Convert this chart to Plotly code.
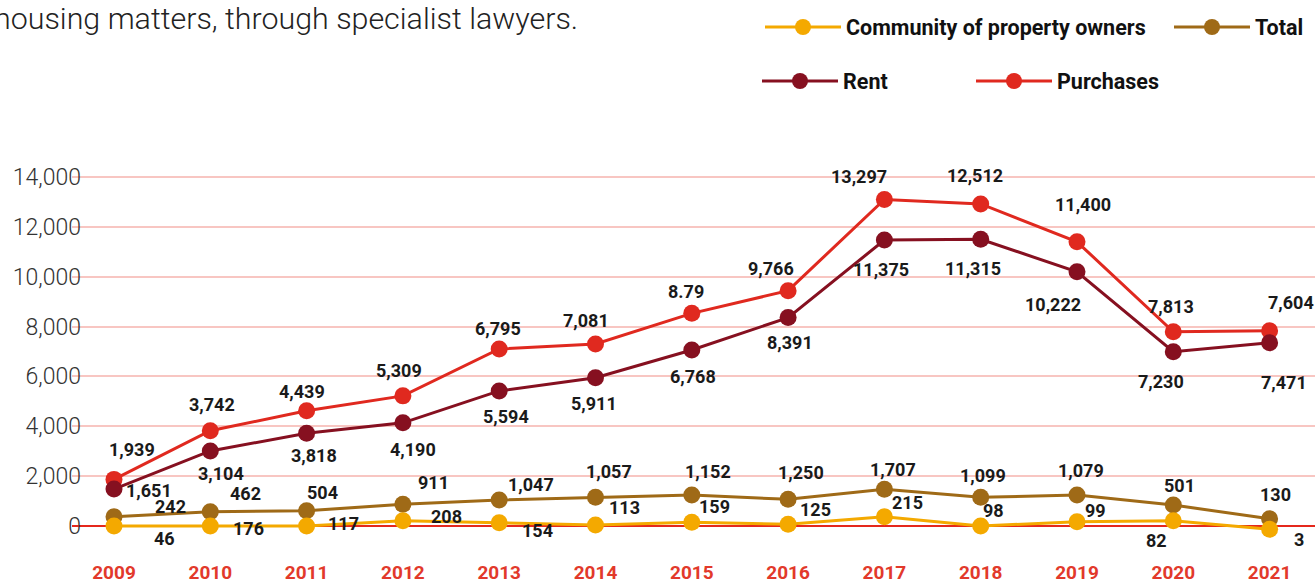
import plotly.graph_objects as go

# ---------------- data ----------------
years = list(range(2009, 2022))
year_labels = [str(y) for y in years]

purchases = [1870, 3820, 4620, 5220, 7100, 7300, 8530, 9440, 13100, 12920, 11400, 7790, 7830]
rent = [1480, 3010, 3720, 4140, 5420, 5950, 7060, 8360, 11470, 11500, 10200, 6990, 7350]
total = [370, 570, 610, 870, 1040, 1150, 1240, 1070, 1470, 1150, 1240, 840, 290]
community = [0, 0, 0, 210, 130, 40, 150, 70, 370, 0, 170, 210, -130]

purchases_labels = ["1,939", "3,742", "4,439", "5,309", "6,795", "7,081", "8.79",
                    "9,766", "13,297", "12,512", "11,400", "7,813", "7,604"]
rent_labels = ["1,651", "3,104", "3,818", "4,190", "5,594", "5,911", "6,768",
               "8,391", "11,375", "11,315", "10,222", "7,230", "7,471"]
total_labels = ["242", "462", "504", "911", "1,047", "1,057", "1,152",
                "1,250", "1,707", "1,099", "1,079", "501", "130"]
community_labels = ["46", "176", "117", "208", "154", "113", "159",
                    "125", "215", "98", "99", "82", "3"]

y_ticks = [0, 2000, 4000, 6000, 8000, 10000, 12000, 14000]
y_tick_labels = ["0", "2,000", "4,000", "6,000", "8,000", "10,000", "12,000", "14,000"]

subtitle = "housing matters, through specialist lawyers."

# ---------------- styles ----------------
C_PURCH = "#e0291f"
C_RENT = "#861020"
C_TOTAL = "#9f6a17"
C_COMM = "#f4a900"
C_YEAR = "#e2392b"
C_LABEL = "#1a1a1a"

# label offsets in px (dx right, dy down) relative to each point
purch_off = [(18, -30), (2, -26), (-5, -19), (-4, -25), (-1, -21), (-10, -24), (-6, -22),
             (-17, -22), (-25, -23), (-6, -28), (6, -37), (-2, -25), (21, -28)]
rent_off = [(35, 1), (11, 23), (7, 22), (10, 27), (7, 26), (-2, 26), (1, 26),
            (2, 25), (-3, 29), (-8, 29), (-24, 33), (-12, 30), (14, 40)]
total_off = [(56, -10), (35, -18), (16, -18), (31, -22), (32, -16), (13, -26), (16, -24),
             (13, -27), (9, -20), (2, -22), (4, -25), (6, -20), (6, -24)]
comm_off = [(50, 12), (38, 2), (37, -3), (44, -4), (38, 8), (29, -18), (23, -16),
            (27, -15), (23, -14), (13, -16), (18, -11), (-17, 20), (29, 10)]

W, H = 1315, 583
L, T, B = 72, 120, 548
px_per_unit = (526 - 177) / 14000.0
y_range = [(526 - B) / px_per_unit, (526 - T) / px_per_unit]
px_per_year = 96.3
x0 = 2009 - (114 - L) / px_per_year
x_range = [x0, x0 + (W - L) / px_per_year]

fig = go.Figure()

series = [
    ("Purchases", purchases, purchases_labels, purch_off, C_PURCH, "legend4"),
    ("Rent", rent, rent_labels, rent_off, C_RENT, "legend3"),
    ("Total", total, total_labels, total_off, C_TOTAL, "legend2"),
    ("Community of property owners", community, community_labels, comm_off, C_COMM, "legend"),
]

annotations = []
for name, vals, labels, offs, color, leg in series:
    fig.add_trace(go.Scatter(
        x=years, y=vals, name=name, mode="lines+markers",
        line=dict(color=color, width=3),
        marker=dict(color=color, size=17),
        legend=leg, cliponaxis=False, hoverinfo="skip",
    ))
    for xv, yv, txt, (dx, dy) in zip(years, vals, labels, offs):
        annotations.append(dict(
            x=xv, y=yv, xref="x", yref="y", text=txt, showarrow=False,
            xshift=dx, yshift=-dy, xanchor="center", yanchor="middle",
            font=dict(family="Roboto", size=18, color=C_LABEL, weight=700),
        ))

annotations.append(dict(
    xref="paper", yref="paper",
    x=(-8 - L) / (W - L), y=(B - 18) / (B - T),
    text=subtitle, showarrow=False, xanchor="left", yanchor="middle",
    font=dict(family="Roboto", size=30.4, color="#222222", weight=300),
))

legend_font = dict(family="Roboto", size=21.5, color="#111111", weight=700)
item_w = 76


def legend_at(text_start_px, center_y_px):
    return dict(
        xref="container", yref="container",
        x=(text_start_px - item_w - 10) / W, y=1 - center_y_px / H,
        xanchor="left", yanchor="middle",
        font=legend_font, itemwidth=item_w, bgcolor="rgba(0,0,0,0)",
        borderwidth=0, orientation="v",
    )


fig.update_layout(
    width=W, height=H,
    margin=dict(l=L, r=0, t=T, b=H - B, pad=0, autoexpand=False),
    paper_bgcolor="white", plot_bgcolor="white",
    showlegend=True,
    legend=legend_at(846, 27),
    legend2=legend_at(1255, 27),
    legend3=legend_at(843, 81),
    legend4=legend_at(1057, 81),
    xaxis=dict(
        range=x_range, tickmode="array", tickvals=years, ticktext=year_labels,
        showgrid=False, zeroline=False, showline=False, ticks="",
        tickfont=dict(family="Roboto", size=19, color=C_YEAR, weight=700),
        ticklabelstandoff=11, automargin=False,
    ),
    yaxis=dict(
        range=y_range, tickmode="array", tickvals=y_ticks, ticktext=y_tick_labels,
        showgrid=True, gridcolor="#f8c6c2", gridwidth=1.5,
        zeroline=True, zerolinecolor="#e5281c", zerolinewidth=1.5,
        showline=False, ticks="",
        tickfont=dict(family="Roboto", size=23, color="#333333", weight=300),
        ticklabelstandoff=-10, automargin=False,
    ),
    annotations=annotations,
)

fig.write_html("out.html", config={"displayModeBar": False},
               post_script="document.body.style.margin='0';")
